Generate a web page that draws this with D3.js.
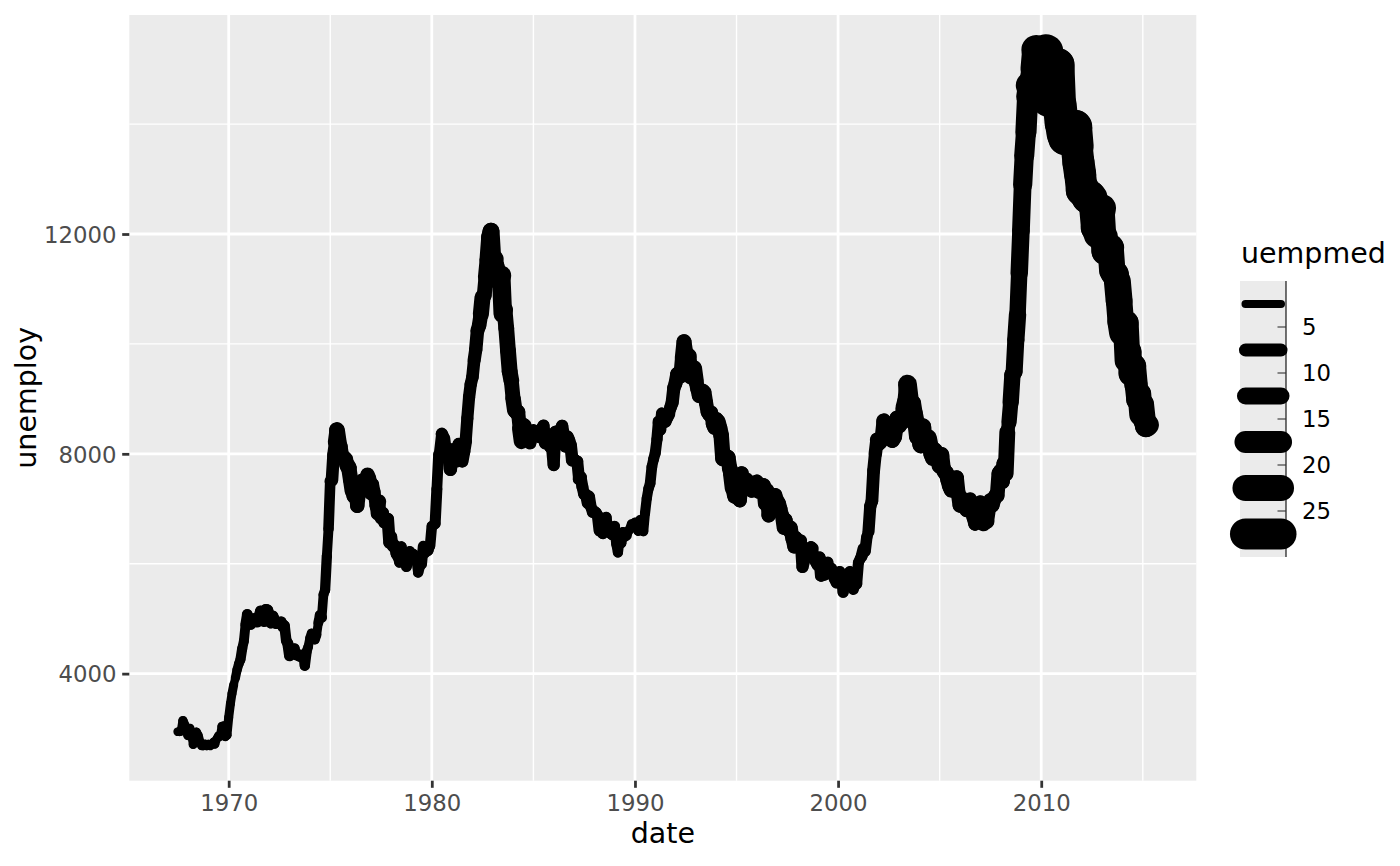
<!DOCTYPE html>
<html><head><meta charset="utf-8">
<script src="https://cdn.jsdelivr.net/npm/d3@7"></script>
<style>html,body{margin:0;padding:0;background:#fff;}svg{display:block;font-family:"DejaVu Sans",sans-serif;}</style>
</head><body>
<svg id="chart" width="1400" height="866"></svg>
<script>
// ---- data (economics: monthly from 1967-07) ----
const startMonth = "1967-07-01";
const unemploy = [
2944,2945,2958,3143,3066,3018,
2878,3001,2877,2709,2740,2938,2883,2768,2686,2689,2715,2685,
2718,2692,2712,2758,2713,2816,2868,2856,3040,3049,2856,2884,
3201,3453,3635,3797,3919,4071,4175,4256,4456,4591,4898,5076,
4986,4903,4987,4959,4996,4949,5035,5134,5042,4954,5161,5154,
5019,4928,5038,4959,4922,4923,4913,4939,4849,4875,4602,4543,
4326,4452,4394,4459,4329,4363,4305,4305,4350,4144,4396,4489,
4644,4731,4634,4618,4705,4927,5063,5022,5437,5523,6140,6636,
7501,7520,7978,8210,8433,8220,8127,7928,7923,7897,7794,7744,
7534,7326,7230,7330,7053,7322,7490,7518,7380,7430,7620,7545,
7280,7443,7307,7059,6911,7134,6829,6925,6751,6763,6815,6386,
6489,6318,6337,6180,6127,6028,6309,6080,6125,5947,6077,6228,
6109,6173,6109,6069,5840,5959,5996,6320,6190,6296,6238,6325,
6683,6702,6729,7358,7984,8098,8363,8281,8021,8088,8023,7718,
8071,8051,7982,7869,8174,8098,7863,8036,8230,8646,9029,9267,
9397,9705,9895,10244,10335,10538,10849,10881,11217,11529,11938,12051,
11534,11545,11408,11268,11154,11246,10548,10623,10282,9887,9499,9331,
9008,8791,8746,8762,8456,8226,8537,8519,8367,8381,8198,8358,
8423,8321,8339,8395,8302,8460,8513,8196,8248,8298,8128,8138,
7795,8402,8383,8364,8439,8508,8319,8135,8310,8243,8159,7883,
7892,7865,7862,7542,7574,7398,7268,7261,7102,7227,7035,6936,
6953,6929,6876,6601,6779,6546,6605,6843,6604,6568,6537,6518,
6682,6359,6205,6468,6375,6577,6495,6511,6590,6630,6725,6667,
6752,6651,6598,6797,6742,6590,6922,7188,7368,7459,7764,7901,
8015,8265,8586,8439,8736,8692,8586,8666,8722,8842,8931,9198,
9283,9454,9460,9415,9744,10040,9850,9787,9781,9398,9565,9557,
9325,9183,9056,9110,9149,9121,8930,8763,8714,8750,8542,8477,
8630,8583,8470,8331,7915,7927,7946,7933,7734,7632,7375,7230,
7375,7187,7153,7645,7430,7427,7527,7484,7478,7328,7426,7423,
7491,7313,7318,7415,7423,7095,7337,6882,6979,7031,7236,7253,
7158,7102,7000,6873,6655,6799,6655,6608,6656,6454,6308,6476,
6368,6306,6422,5941,6047,6212,6259,6179,6300,6280,6100,6032,
5976,6111,5783,6004,5796,5951,6025,5838,5915,5778,5716,5653,
5708,5858,5733,5481,5758,5651,5747,5853,5625,5534,5639,5634,
6023,6089,6141,6271,6226,6484,6583,7042,7142,7694,8003,8258,
8182,8215,8304,8599,8399,8393,8390,8304,8251,8307,8520,8640,
8520,8618,8588,8842,8957,9266,9011,8896,8921,8732,8576,8317,
8370,8167,8491,8170,8212,8286,8136,7990,7927,8061,7932,7934,
7784,7980,7737,7672,7651,7524,7406,7345,7553,7453,7566,7279,
7064,7184,7072,7120,6980,7001,7175,7091,6847,6727,6872,6762,
7116,6927,6731,6850,6766,6979,7149,7067,7170,7237,7240,7645,
7685,7497,7822,7637,8395,8575,8937,9438,9494,10074,10538,11286,
12058,12898,13426,13853,14499,14707,14601,14814,15009,15352,15219,15098,
15046,15113,15202,15325,14849,14474,14512,14648,14579,14516,15081,14348,
14013,13820,13737,13957,13855,13962,13763,13818,13948,13594,13302,13093,
12797,12813,12713,12646,12660,12692,12656,12471,12115,12124,12005,12298,
12471,11950,11689,11760,11654,11751,11335,11279,11270,11136,10787,10404,
10202,10349,10380,9702,9859,9460,9608,9599,9262,8990,9090,8717,
8903,8610,8504,8526
];
const uempmed = [
4.5,4.7,4.6,4.9,4.7,4.8,
5.1,4.5,4.1,4.6,4.4,4.4,4.5,4.2,4.6,4.8,4.4,4.4,
4.4,4.9,4.0,4.0,4.2,4.4,4.4,4.4,4.7,4.5,4.8,4.6,
4.6,4.5,4.6,4.1,4.7,4.9,5.1,5.4,5.2,5.2,5.6,5.9,
6.2,6.3,6.4,6.5,6.7,5.7,6.2,6.4,5.8,6.5,6.4,6.2,
6.2,6.6,6.6,6.7,6.6,5.4,6.1,6.0,5.6,5.7,5.7,6.1,
5.7,5.2,5.5,5.0,4.9,5.0,5.2,4.9,5.4,5.5,5.1,4.7,
5.0,5.1,4.8,5.0,4.6,5.3,5.7,5.0,5.3,5.5,5.2,5.7,
6.3,7.1,7.2,8.7,9.4,8.8,8.6,9.2,9.2,8.6,9.5,9.0,
9.0,8.2,8.7,8.2,8.3,7.8,7.7,7.9,7.8,7.7,8.4,8.0,
7.5,7.2,7.2,7.3,7.9,6.2,7.1,7.0,6.7,6.9,7.0,6.8,
6.5,6.7,6.2,6.1,5.7,6.0,5.8,5.8,5.6,5.9,5.5,5.6,
5.9,5.9,5.9,5.4,5.6,5.6,5.9,4.8,5.5,5.5,5.3,5.7,
5.3,5.8,6.0,5.8,5.7,6.4,7.0,7.5,7.7,7.5,7.7,7.5,
7.4,7.1,7.1,7.4,6.9,6.6,7.1,7.2,6.8,6.8,6.9,6.9,
7.1,7.5,7.7,8.1,8.5,9.5,8.5,8.7,9.5,9.7,10.0,10.2,
11.1,9.8,10.4,10.9,12.3,11.3,10.1,9.3,9.3,9.4,9.3,8.7,
9.1,8.3,8.3,8.2,9.1,7.5,7.5,7.3,7.6,7.2,7.2,7.3,
6.8,7.1,7.1,6.9,6.9,6.6,6.9,7.1,6.9,7.1,7.0,6.8,
6.7,6.9,6.8,6.7,6.8,7.0,6.9,7.1,7.4,7.0,7.1,7.1,
6.9,6.6,6.6,7.1,6.6,6.5,6.5,6.4,6.0,6.3,6.2,6.0,
6.2,6.3,6.4,5.9,5.9,5.8,6.1,5.9,5.7,5.6,5.7,5.9,
5.6,5.4,5.4,5.4,5.3,5.4,5.6,5.0,4.9,4.9,4.8,4.8,
5.1,5.3,5.1,4.8,5.2,5.2,5.4,5.4,5.6,5.8,5.7,5.9,
6.0,6.2,6.7,6.6,6.4,6.9,7.0,7.3,6.8,7.2,7.5,7.8,
8.1,8.2,8.3,8.5,8.8,8.7,8.6,8.8,8.6,9.0,9.0,9.3,
8.6,8.5,8.5,8.4,8.1,8.3,8.2,8.2,8.3,8.0,8.3,8.3,
8.6,9.2,9.3,9.1,9.2,9.3,9.0,8.9,9.2,10.0,9.0,8.7,
8.0,8.1,8.3,8.3,9.1,7.9,8.5,8.3,7.9,8.2,8.0,8.3,
8.3,7.8,8.3,8.6,8.6,8.3,8.3,8.4,8.5,8.3,7.7,7.8,
7.8,8.1,7.9,8.3,8.0,8.0,8.3,7.8,8.2,7.7,7.6,7.5,
7.4,7.0,6.8,6.7,6.0,6.9,6.7,6.8,6.7,5.8,6.6,6.8,
6.9,6.8,6.8,6.2,6.5,6.3,5.8,6.5,6.0,6.1,6.2,5.8,
5.8,6.1,6.0,6.1,5.8,5.7,6.0,6.3,5.2,6.1,6.1,6.0,
5.8,6.1,6.6,5.9,6.3,6.0,6.8,6.9,7.2,7.3,7.7,8.2,
8.4,8.3,8.4,8.9,9.5,11.0,8.9,9.0,9.5,9.6,9.3,9.6,
9.6,9.5,9.7,10.2,9.9,11.5,10.3,10.1,10.2,10.4,10.3,10.4,
10.6,10.2,10.2,9.5,9.9,11.0,8.9,9.2,9.6,9.5,9.7,9.5,
9.4,9.2,9.3,9.0,9.1,9.0,8.8,9.2,8.4,8.6,8.5,8.7,
8.6,9.1,8.7,8.4,8.5,7.3,8.0,8.4,8.0,7.9,8.3,7.5,
8.3,8.5,9.1,8.6,8.2,7.7,8.7,8.8,8.7,8.4,8.6,8.4,
9.0,8.7,8.7,9.4,7.9,9.0,9.7,9.7,10.2,10.4,9.8,10.5,
10.7,11.7,12.3,13.1,14.2,17.2,16.0,16.3,17.8,18.9,19.8,20.1,
20.0,19.9,20.4,22.1,22.3,25.2,22.3,21.0,20.3,21.2,21.0,21.9,
21.5,21.1,21.5,20.9,21.6,22.4,22.0,22.4,22.0,20.6,20.8,20.5,
20.8,19.7,19.2,19.1,19.9,20.1,17.5,18.5,18.8,19.7,18.5,17.6,
15.6,17.7,18.0,17.2,17.2,16.7,16.2,16.6,16.3,17.1,16.8,17.0,
15.9,16.2,16.3,15.5,15.3,15.6,14.9,14.7,14.2,14.4,14.8,13.5,
14.0,13.6,13.8,13.4
];
const yTicks = [4000, 8000, 12000];
const yMinor = [6000, 10000, 14000];
const xTickYears = [1970, 1980, 1990, 2000, 2010];
const xMinorYears = [1975, 1985, 1995, 2005, 2015];
const legendBreaks = [5, 10, 15, 20, 25];
const legendKeyPos = [2.5, 7.5, 12.5, 17.5, 22.5, 27.5];
const legendKeySize = [3.9, 7.4, 10.2, 13.7, 16.5, 20.0];

// ---- build ----
const parse = d3.utcParse("%Y-%m-%d");
const dates = d3.utcMonth.range(parse(startMonth), d3.utcMonth.offset(parse(startMonth), unemploy.length));
const data = unemploy.map((u, i) => ({date: dates[i], unemploy: u, uempmed: uempmed[i]}));

const svg = d3.select("#chart");
const P = {l: 129.3, r: 1196.3, t: 15, b: 780.7};

function expand(ext, f) { const s = (ext[1] - ext[0]) * f; return [ext[0] - s, ext[1] + s]; }
const xExt = d3.extent(data, d => +d.date);
const x = d3.scaleUtc().domain(expand(xExt, 0.05).map(v => new Date(v))).range([P.l, P.r]);
const y = d3.scaleLinear().domain(expand(d3.extent(data, d => d.unemploy), 0.05)).range([P.b, P.t]);
const w = d3.scaleLinear().domain(d3.extent(data, d => d.uempmed)).range([8.2, 38.5]);

svg.append("rect").attr("x", P.l).attr("y", P.t).attr("width", P.r - P.l).attr("height", P.b - P.t).attr("fill", "#EBEBEB");

const yr = v => d3.utcParse("%Y")(String(v));
const grid = svg.append("g");
grid.selectAll(".ymin").data(yMinor).join("line").attr("x1", P.l).attr("x2", P.r)
  .attr("y1", d => y(d)).attr("y2", d => y(d)).attr("stroke", "#fff").attr("stroke-width", 1.39);
grid.selectAll(".xmin").data(xMinorYears.filter(v => x(yr(v)) <= P.r)).join("line").attr("y1", P.t).attr("y2", P.b)
  .attr("x1", d => x(yr(d))).attr("x2", d => x(yr(d))).attr("stroke", "#fff").attr("stroke-width", 1.39);
grid.selectAll(".ymaj").data(yTicks).join("line").attr("x1", P.l).attr("x2", P.r)
  .attr("y1", d => y(d)).attr("y2", d => y(d)).attr("stroke", "#fff").attr("stroke-width", 2.77);
grid.selectAll(".xmaj").data(xTickYears).join("line").attr("y1", P.t).attr("y2", P.b)
  .attr("x1", d => x(yr(d))).attr("x2", d => x(yr(d))).attr("stroke", "#fff").attr("stroke-width", 2.77);

// line segments, width from starting point
const segs = d3.pairs(data);
svg.append("g").selectAll("line").data(segs).join("line")
  .attr("x1", d => x(d[0].date)).attr("y1", d => y(d[0].unemploy))
  .attr("x2", d => x(d[1].date)).attr("y2", d => y(d[1].unemploy))
  .attr("stroke", "#000").attr("stroke-linecap", "round").attr("stroke-width", d => w(d[0].uempmed));

// axes
const xAxis = d3.axisBottom(x).tickValues(xTickYears.map(yr)).tickFormat(d3.utcFormat("%Y")).tickSize(7.1).tickPadding(5.7);
const gx = svg.append("g").attr("transform", `translate(0,${P.b})`).call(xAxis);
const yAxis = d3.axisLeft(y).tickValues(yTicks).tickFormat(d3.format("d")).tickSize(7.1).tickPadding(5.7);
const gy = svg.append("g").attr("transform", `translate(${P.l},0)`).call(yAxis);
[gx, gy].forEach(g => {
  g.select(".domain").remove();
  g.selectAll(".tick line").attr("stroke", "#333333").attr("stroke-width", 2.77);
  g.selectAll(".tick text").attr("fill", "#4D4D4D").style("font-size", "22.8px").style("font-family", "DejaVu Sans");
});
gx.selectAll(".tick text").attr("dy", null).attr("y", 30);
gy.selectAll(".tick text").attr("dy", "0.36em");

svg.append("text").attr("x", (P.l + P.r) / 2).attr("y", 843).attr("text-anchor", "middle")
  .style("font-size", "28.5px").attr("fill", "#000").text("date");
svg.append("text").attr("transform", `translate(36,${(P.t + P.b) / 2}) rotate(-90)`).attr("text-anchor", "middle")
  .style("font-size", "28.5px").attr("fill", "#000").text("unemploy");

// legend
const L = {x0: 1240, x1: 1286, y0: 281, y1: 557};
const ly = d3.scaleLinear().domain([0, 30]).range([L.y0, L.y1]);
const lg = svg.append("g");
lg.append("text").attr("x", 1241).attr("y", 263).style("font-size", "28.5px").attr("fill", "#000").text("uempmed");
lg.append("rect").attr("x", L.x0).attr("y", L.y0).attr("width", L.x1 - L.x0).attr("height", L.y1 - L.y0).attr("fill", "#EBEBEB");
lg.selectAll(".key").data(legendKeyPos.map((p, i) => ({p, s: legendKeySize[i]}))).join("line")
  .attr("x1", 1245.5).attr("x2", 1281).attr("y1", d => ly(d.p)).attr("y2", d => ly(d.p))
  .attr("stroke", "#000").attr("stroke-linecap", "round").attr("stroke-width", d => w(d.s));
lg.append("line").attr("x1", L.x1).attr("x2", L.x1).attr("y1", L.y0).attr("y2", L.y1).attr("stroke", "#000").attr("stroke-width", 1.1);
lg.selectAll(".tk").data(legendBreaks).join("line").attr("x1", L.x1 - 8.5).attr("x2", L.x1)
  .attr("y1", d => ly(d)).attr("y2", d => ly(d)).attr("stroke", "#333").attr("stroke-width", 1.1);
lg.selectAll(".lb").data(legendBreaks).join("text").attr("x", 1302).attr("y", d => ly(d)).attr("dy", "0.36em")
  .style("font-size", "22.8px").attr("fill", "#000").text(d => d);
</script>
</body></html>
